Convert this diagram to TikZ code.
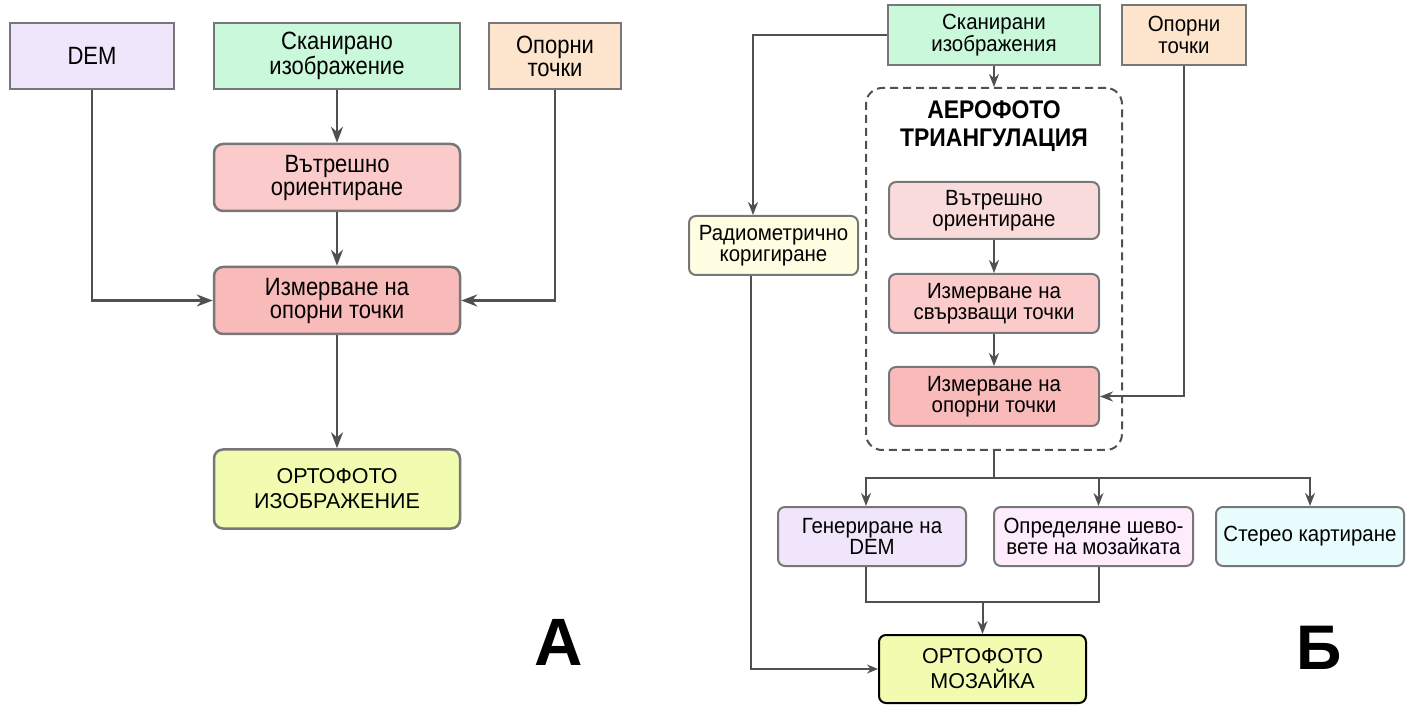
\documentclass[tikz,border=0pt]{standalone}
\usepackage{fontspec}
\setmainfont{Liberation Sans}
\newfontfamily\condA[FakeStretch=0.88]{Liberation Sans}
\newfontfamily\condB[FakeStretch=0.93]{Liberation Sans}
\newfontfamily\condT[FakeStretch=0.9]{Liberation Sans}
\usetikzlibrary{arrows.meta,positioning}
\definecolor{edgeg}{HTML}{777777}
\definecolor{lineg}{HTML}{505050}
\definecolor{cdem}{HTML}{EFE6FC}
\definecolor{cscan}{HTML}{C9F8DA}
\definecolor{cgcp}{HTML}{FDE4CD}
\definecolor{cint}{HTML}{FBCBCB}
\definecolor{cintl}{HTML}{FADBDB}
\definecolor{cmeas}{HTML}{F9BABA}
\definecolor{cortho}{HTML}{F1FCB0}
\definecolor{crad}{HTML}{FFFEE2}
\definecolor{cdemb}{HTML}{F0E5FB}
\definecolor{cseam}{HTML}{FEEBFC}
\definecolor{cster}{HTML}{E8FDFD}
\tikzset{
  x=1pt,y=-1pt,
  boxA/.style={draw=edgeg,line width=2.5pt,align=center,inner sep=0pt,
     font=\condA\fontsize{25}{23}\selectfont},
  boxB/.style={draw=edgeg,line width=2pt,align=center,inner sep=0pt,rounded corners=7pt,
     font=\condB\fontsize{22}{21.5}\selectfont},
  arrA/.style={draw=lineg,line width=2.5pt,-{Stealth[length=16pt,width=12pt]}},
  arrB/.style={draw=lineg,line width=2pt,-{Stealth[length=13pt,width=10pt]}},
  lnB/.style={draw=lineg,line width=2pt},
}
\begin{document}
\begin{tikzpicture}
\useasboundingbox (0,0) rectangle (1406,708);
% ---------- Panel A ----------
\node[boxA,fill=cdem,minimum width=164pt,minimum height=66pt] (demA) at (92,56) {DEM};
\node[boxA,fill=cscan,minimum width=246pt,minimum height=66pt] (scanA) at (337,56) {Сканирано\\изображение};
\node[boxA,fill=cgcp,minimum width=132pt,minimum height=66pt] (gcpA) at (555,56) {Опорни\\точки};
\node[boxA,fill=cint,rounded corners=9pt,minimum width=246pt,minimum height=67pt] (intA) at (337,177.5) {Вътрешно\\ориентиране};
\node[boxA,fill=cmeas,rounded corners=9pt,minimum width=246pt,minimum height=67pt] (measA) at (337,300.5) {Измерване на\\опорни точки};
\node[boxA,fill=cortho,rounded corners=9pt,minimum width=246pt,minimum height=79pt,
      font=\fontsize{21.5}{25}\selectfont] (orthoA) at (337,489) {ОРТОФОТО\\ИЗОБРАЖЕНИЕ};
\node[font=\fontsize{67}{67}\selectfont\bfseries,inner sep=0pt,anchor=base] (labA) at (559,665) {A};
\draw[arrA] (scanA.south) -- (intA.north);
\draw[arrA] (intA.south) -- (measA.north);
\draw[arrA] (measA.south) -- (orthoA.north);
\draw[arrA] (demA.south) |- (measA.west);
\draw[arrA] (gcpA.south) |- (measA.east);
% ---------- Panel B ----------
\node[boxB,rounded corners=0pt,fill=cscan,minimum width=212pt,minimum height=60pt] (scanB) at (994,35) {Сканирани\\изображения};
\node[boxB,rounded corners=0pt,fill=cgcp,minimum width=124pt,minimum height=60pt] (gcpB) at (1184,35) {Опорни\\точки};
\node[draw=lineg,line width=2pt,dash pattern=on 8pt off 5pt,rounded corners=16pt,
      minimum width=256pt,minimum height=362pt,inner sep=0pt] (triB) at (994,269) {};
\node[font=\condT\fontsize{25.5}{28}\selectfont\bfseries,align=center,inner sep=0pt] (titB) at (994,126) {АЕРОФОТО\\ТРИАНГУЛАЦИЯ};
\node[boxB,fill=cintl,minimum width=210pt,minimum height=57pt] (intB) at (994,210.5) {Вътрешно\\ориентиране};
\node[boxB,fill=cint,minimum width=210pt,minimum height=59pt] (tieB) at (994,303.5) {Измерване на\\свързващи точки};
\node[boxB,fill=cmeas,minimum width=210pt,minimum height=59pt] (gcpmB) at (994,396.5) {Измерване на\\опорни точки};
\node[boxB,fill=crad,minimum width=169pt,minimum height=59pt] (radB) at (773.5,245.5) {Радиометрично\\коригиране};
\node[boxB,fill=cdemb,minimum width=188pt,minimum height=59pt] (demB) at (872,536.5) {Генериране на\\DEM};
\node[boxB,fill=cseam,minimum width=199pt,minimum height=59pt] (seamB) at (1093.5,536.5) {Определяне шево-\\вете на мозайката};
\node[boxB,fill=cster,minimum width=188pt,minimum height=59pt] (sterB) at (1310,536.5) {Стерео картиране};
\node[boxB,draw=black,fill=cortho,minimum width=207pt,minimum height=68pt,
      font=\fontsize{21.5}{25}\selectfont] (orthoB) at (982.5,669) {ОРТОФОТО\\МОЗАЙКА};
\node[font=\fontsize{63}{63}\selectfont\bfseries,inner sep=0pt,anchor=base] (labB) at (1319,669) {Б};
% connectors B
\draw[arrB] (scanB.west) -| ([xshift=65pt]radB.north west);
\draw[arrB] (scanB.south) -- (triB.north);
\draw[arrB] (intB.south) -- (tieB.north);
\draw[arrB] (tieB.south) -- (gcpmB.north);
\draw[arrB] (gcpB.south) |- (gcpmB.east);
\draw[lnB] (triB.south) -- ++(0,27) coordinate (split);
\draw[arrB] (split) -| ([xshift=-6pt]demB.north);
\draw[arrB] (split) -| ([xshift=5pt]seamB.north);
\draw[arrB] (split) -| (sterB.north);
\draw[lnB] ([xshift=-6pt]demB.south) -- ++(0,35) coordinate (jl) -| ([xshift=5pt]seamB.south);
\draw[arrB] (orthoB.north |- jl) -- (orthoB.north);
\draw[draw=lineg,line width=1.5pt,-{Stealth[length=11pt,width=9pt]}] ([xshift=63pt]radB.south west) |- (orthoB.west);
\end{tikzpicture}
\end{document}
